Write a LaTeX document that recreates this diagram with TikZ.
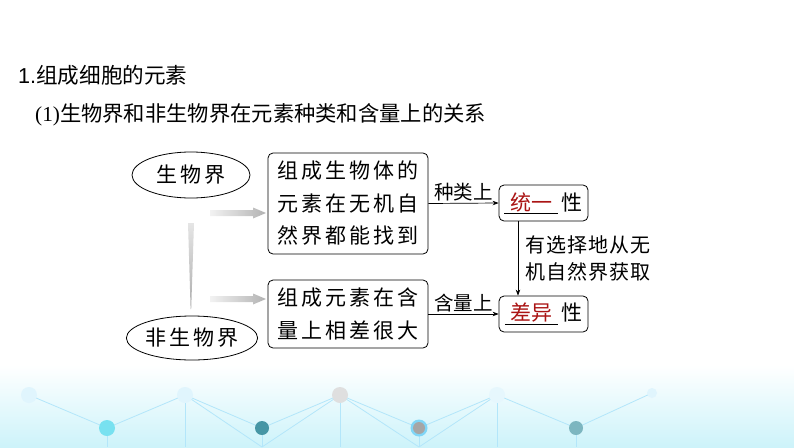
\documentclass[tikz,border=0pt]{standalone}
\usepackage{fontspec}
\setmainfont{Noto Sans CJK SC}
\newfontfamily\cjk{Noto Sans CJK SC}
\newfontfamily\cjks[LetterSpace=14]{Noto Sans CJK SC}
\newfontfamily\latsans{Liberation Sans}
\newfontfamily\latserif{Liberation Serif}
\usetikzlibrary{shapes.geometric,arrows.meta,calc}
\definecolor{tred}{RGB}{170,20,20}
\definecolor{bgc}{RGB}{205,243,250}
\definecolor{dotc}{RGB}{120,225,240}
\definecolor{tealc}{RGB}{70,150,165}
\begin{document}
\begin{tikzpicture}[x=1pt,y=-1pt,
  ov/.style={draw,ellipse,line width=0.8pt,inner sep=0pt},
  bx/.style={draw,rectangle,rounded corners=5pt,line width=0.8pt,inner sep=0pt},
  big/.style={font=\fontsize{21}{32.5}\selectfont\cjks},
  lab/.style={font=\fontsize{19.5}{27}\selectfont\cjk},
  arr/.style={line width=0.7pt,-{Stealth[length=6pt,width=4.5pt]}},
  bgline/.style={draw=cyan!30,line width=0.8pt},
  ]
\useasboundingbox (0,0) rectangle (794,447);
% background band
\shade[top color=white,bottom color=bgc] (0,365) rectangle (794,447);
\draw[bgline] (29,395) -- (107,428) -- (185,395) -- (262,428) -- (340,395) -- (419,428) -- (497,395) -- (576,428) -- (652,393);
\draw[bgline] (107,428) -- (107,447) (262,428) -- (262,447) (419,428) -- (419,447) (576,428) -- (576,447);
\draw[bgline] (185,395) -- (185,447) (340,395) -- (340,447) (497,395) -- (497,447);
\draw[bgline] (185,395) -- (262,447) (340,395) -- (262,447) (497,395) -- (419,447) (340,395) -- (419,447);
\fill[cyan!12] (29,395) circle (8);
\fill[cyan!12] (185,395) circle (8);
\fill[gray!25] (340,395) circle (8);
\fill[cyan!10] (497,395) circle (8);
\fill[cyan!12] (652,393) circle (5);
\fill[dotc] (107,428) circle (8);
\fill[tealc] (262,428) circle (7);
\fill[cyan!50] (419,428) circle (8.5);
\fill[gray!70] (419,428) circle (6);
\fill[tealc!70] (576,428) circle (7);
% headings
\node[anchor=west,inner sep=0pt,font=\fontsize{21.6}{26}\selectfont] (h1) at (18,75) {{\latsans 1.}{\cjk 组成细胞的元素}};
\node[anchor=west,inner sep=0pt,font=\fontsize{21.3}{26}\selectfont] (h2) at (35,115) {{\latserif (1)}{\cjk 生物界和非生物界在元素种类和含量上的关系}};
% ellipses
\node[ov,big,minimum width=118pt,minimum height=46pt] (e1) at (191,175) {生物界};
\node[ov,big,minimum width=116pt,minimum height=44pt] (e2) at (192,338) {非生物界};
% boxes
\node[bx,big,minimum width=160pt,minimum height=101pt,align=left] (b1) at (348,203.5) {组成生物体的\\元素在无机自\\然界都能找到};
\node[bx,big,minimum width=160pt,minimum height=68pt,align=left] (b2) at (348,314) {组成元素在含\\量上相差很大};
\node[bx,minimum width=89pt,minimum height=36pt,font=\fontsize{21}{24}\selectfont\cjk] (b3) at (543.5,203) {\underline{\makebox[54pt]{\color{tred}统一}}\,性};
\node[bx,minimum width=89pt,minimum height=36pt,font=\fontsize{21}{24}\selectfont\cjk] (b4) at (543.5,314) {\underline{\makebox[53pt]{\color{tred}差异}}\,性};
% connectors
\draw[arr] (b1.east) -- (b3.west);
\draw[arr] (b2.east) -- (b4.west);
\draw[arr] ([xshift=-25.5pt]b3.south) -- ([xshift=-25.5pt]b4.north);
\node[lab,anchor=south,inner sep=2pt] (l1) at ($(b1.east)!0.5!(b3.west)$) {种类上};
\node[lab,anchor=south,inner sep=2pt] (l2) at ($(b2.east)!0.5!(b4.west)$) {含量上};
\node[lab,anchor=west,align=left,inner sep=0pt,font=\fontsize{20}{27}\selectfont\cjk\addfontfeature{LetterSpace=5}] (l3) at (525,258) {有选择地从无\\机自然界获取};
% gray gradient arrows
\shade[left color=gray!10,right color=gray!60] (210,210) -- (253,210) -- (253,207.5) -- (266,213) -- (253,218.5) -- (253,216) -- (210,216) -- cycle;
\shade[left color=gray!10,right color=gray!60] (210,296) -- (253,296) -- (253,293.5) -- (266,299) -- (253,304.5) -- (253,302) -- (210,302) -- cycle;
\shade[top color=gray!20,bottom color=gray!65] (188,223) -- (194,223) -- (191.2,309) -- (190.6,309) -- cycle;
\end{tikzpicture}
\end{document}
